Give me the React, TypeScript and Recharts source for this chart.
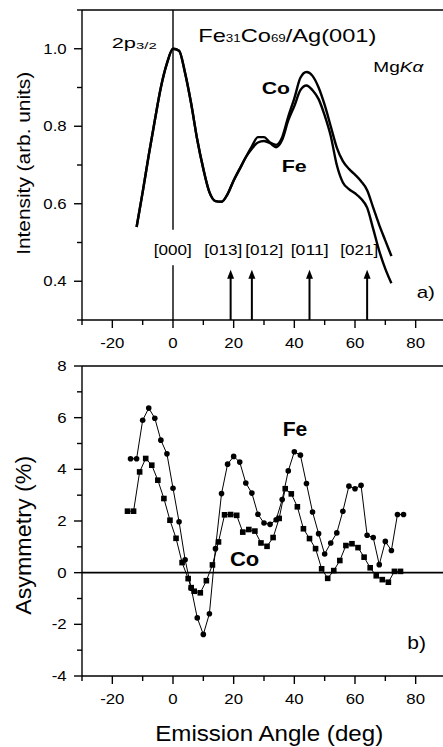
import React from "react";
import { LineChart, Line, XAxis, YAxis, ReferenceLine } from "recharts";

const FONT = "'Liberation Sans', Arial, sans-serif";
const INK = "#000";

// ── panel a) intensity curves ──
const INTENSITY_ANGLES = [
  -12, -10, -8, -6, -4, -2, 0, 2, 4, 6, 8, 10, 12, 14, 16, 18, 20, 22, 24, 26, 28, 30,
  32, 34, 36, 38, 40, 42, 44, 46, 48, 50, 52, 54, 56, 58, 60, 62, 64, 66, 68, 70, 72,
];
const CO_INTENSITY = [
  0.54, 0.63, 0.725, 0.815, 0.9, 0.962, 1.0, 0.995, 0.937, 0.858, 0.765, 0.69, 0.63, 0.607,
  0.605, 0.625, 0.66, 0.69, 0.72, 0.748, 0.772, 0.772, 0.758, 0.752, 0.772, 0.825, 0.872,
  0.925, 0.94, 0.93, 0.9, 0.855, 0.8, 0.745, 0.71, 0.69, 0.675, 0.658, 0.635, 0.59, 0.545,
  0.505, 0.465,
];
const FE_INTENSITY = [
  0.54, 0.63, 0.725, 0.815, 0.9, 0.962, 1.0, 0.995, 0.937, 0.858, 0.765, 0.69, 0.63, 0.607,
  0.605, 0.625, 0.66, 0.69, 0.72, 0.742, 0.758, 0.762, 0.756, 0.746, 0.765, 0.815, 0.852,
  0.893, 0.905, 0.893, 0.87, 0.828, 0.775, 0.7, 0.655, 0.638, 0.627, 0.613, 0.59, 0.535,
  0.478, 0.432, 0.395,
];

// diffraction directions marked in panel a)
const DIRECTION_LABELS = ["[000]", "[013]", "[012]", "[011]", "[021]"];
const ARROW_ANGLES = [19, 26, 45, 64];

// ── panel b) asymmetry ──
const FE_ASYM_ANGLES = [
  -14, -12, -10, -8, -6, -4, -2, 0, 2, 4, 6, 8, 10, 12, 14, 16, 18, 20, 22, 24, 26, 28, 30,
  32, 34, 36, 38, 40, 42, 44, 46, 48, 50, 52, 54, 56, 58, 60, 62, 64, 66, 68, 70, 72, 74, 76,
];
const FE_ASYM = [
  4.41, 4.41, 5.9, 6.37, 5.98, 5.13, 4.6, 3.27, 1.97, 0.5, -0.6, -1.75, -2.39, -1.59, 0.93,
  3.06, 4.2, 4.5, 4.28, 3.47, 3.08, 2.26, 1.92, 1.87, 2.05, 2.83, 3.94, 4.68, 4.55, 3.45,
  2.35, 1.51, 0.72, 1.15, 1.54, 2.38, 3.35, 3.25, 3.38, 1.45, 1.36, 0.31, 1.21, 0.86, 2.25,
  2.25,
];
const CO_ASYM_ANGLES = [
  -15, -13, -11, -9, -7, -5, -3, -1, 1, 3, 5, 6, 7, 9, 11, 13, 15, 17, 19, 21, 23, 25, 27,
  29, 31, 33, 35, 37, 39, 41, 43, 45, 47, 49, 51, 53, 55, 57, 59, 61, 63, 65, 67, 69, 71, 73,
  75,
];
const CO_ASYM = [
  2.38, 2.38, 3.9, 4.42, 4.16, 3.58, 2.87, 2.03, 1.33, 0.39, -0.23, -0.58, -0.72, -0.78,
  -0.31, 0.3, 1.19, 2.24, 2.25, 2.22, 1.57, 1.67, 1.61, 1.15, 1.02, 1.36, 2.1, 3.25, 3.05,
  2.55, 1.7, 1.32, 0.93, 0.15, -0.22, 0.08, 0.47, 1.05, 1.12, 0.97, 0.6, 0.19, -0.12, -0.27,
  -0.37, 0.05, 0.05,
];

// ── axes ──
const ANGLE_TICKS = [-30, -20, -10, 0, 10, 20, 30, 40, 50, 60, 70, 80, 90];
const ANGLE_LABELS = [-20, 0, 20, 40, 60, 80];
const INTENSITY_TICKS = [0.3, 0.4, 0.5, 0.6, 0.7, 0.8, 0.9, 1.0, 1.1];
const INTENSITY_LABELS = [0.4, 0.6, 0.8, 1.0];
const ASYM_TICKS = [-4, -3, -2, -1, 0, 1, 2, 3, 4, 5, 6, 7, 8];
const ASYM_LABELS = [-4, -2, 0, 2, 4, 6, 8];

const toPoints = (xs: number[], ys: number[]) => xs.map((a, i) => ({ angle: a, value: ys[i] }));

const near = (list: number[], v: number) => list.some((l) => Math.abs(l - v) < 1e-6);

// the figure's lettering is a wide sans, so tick text is stretched sideways a little
const tickText = (x: number, y: number, anchor: "middle" | "end", s: string) => (
  <text
    transform={`translate(${x},${y}) scale(1.2,1)`}
    dy="0.36em"
    textAnchor={anchor}
    fontSize={14}
    fontFamily={FONT}
    fill={INK}
  >
    {s}
  </text>
);

function makeTick(side: string, labels: number[], fmt: (v: number) => string) {
  return function Tick(props: any) {
    const { x, y, payload } = props;
    const v = payload.value;
    const major = near(labels, v);
    const len = major ? 8 : 5;
    const l =
      side === "bottom" || side === "top"
        ? { x1: x, y1: y, x2: x, y2: y + len }
        : { x1: x - len, y1: y, x2: x, y2: y };
    return (
      <g>
        <line {...l} stroke={INK} strokeWidth={1.4} />
        {major && side === "bottom" && tickText(x, y + 23, "middle", fmt(v))}
        {major && side === "left" && tickText(x - 15.3, y, "end", fmt(v))}
      </g>
    );
  };
}

const AXIS_LINE = { stroke: INK, strokeWidth: 1.4 };

function Arrow(p: any) {
  const { x1, y1, x2, y2 } = p;
  return (
    <g>
      <line x1={x1} y1={y1} x2={x2} y2={y2 + 7} stroke={INK} strokeWidth={2} />
      <polygon points={`${x2},${y2} ${x2 - 3.5},${y2 + 9} ${x2 + 3.5},${y2 + 9}`} fill={INK} />
    </g>
  );
}

function SquareDot(p: any) {
  return <rect key={p.index} x={p.cx - 2.8} y={p.cy - 2.8} width={5.6} height={5.6} fill={INK} />;
}

export default function App() {
  const coInt = toPoints(INTENSITY_ANGLES, CO_INTENSITY);
  const feInt = toPoints(INTENSITY_ANGLES, FE_INTENSITY);
  const feAsym = toPoints(FE_ASYM_ANGLES, FE_ASYM);
  const coAsym = toPoints(CO_ASYM_ANGLES, CO_ASYM);

  const xAxes = [
    <XAxis
      key="xb"
      dataKey="angle"
      type="number"
      domain={[-30, 90]}
      ticks={ANGLE_TICKS}
      interval={0}
      height={30}
      tickSize={0}
      tickMargin={0}
      axisLine={AXIS_LINE}
      tickLine={false}
      tick={makeTick("bottom", ANGLE_LABELS, (v) => String(v))}
    />,
    <XAxis
      key="xt"
      xAxisId="top"
      orientation="top"
      dataKey="angle"
      type="number"
      domain={[-30, 90]}
      ticks={ANGLE_TICKS}
      interval={0}
      height={10}
      tickSize={0}
      tickMargin={0}
      axisLine={AXIS_LINE}
      tickLine={false}
      tick={makeTick("top", ANGLE_LABELS, (v) => String(v))}
    />,
  ];

  const text = { fontFamily: FONT, fill: INK };
  const fit = { lengthAdjust: "spacingAndGlyphs" as const };
  const chartMargin = { top: 0, right: 0, bottom: 15, left: 0 };

  return (
    <div style={{ position: "absolute", left: 0, top: 0, width: 443, height: 747, overflow: "hidden", background: "#fff" }}>
      <div style={{ position: "absolute", left: 0, top: 0 }}>
        <LineChart width={460} height={365} margin={chartMargin}>
          {xAxes}
          <YAxis
            type="number"
            domain={[0.3, 1.1]}
            ticks={INTENSITY_TICKS}
            interval={0}
            width={82}
            tickSize={0}
            tickMargin={0}
            axisLine={AXIS_LINE}
            tickLine={false}
            allowDataOverflow
            tick={makeTick("left", INTENSITY_LABELS, (v) => v.toFixed(1))}
          />
          <YAxis
            yAxisId="right"
            orientation="right"
            type="number"
            domain={[0.3, 1.1]}
            ticks={INTENSITY_TICKS}
            interval={0}
            width={14}
            tickSize={0}
            tickMargin={0}
            axisLine={AXIS_LINE}
            tickLine={false}
            tick={makeTick("right", INTENSITY_LABELS, (v) => v.toFixed(1))}
          />
          <ReferenceLine segment={[{ x: 0, y: 1.1 }, { x: 0, y: 0.533 }]} stroke={INK} strokeWidth={1.4} ifOverflow="visible" />
          <ReferenceLine segment={[{ x: 0, y: 0.441 }, { x: 0, y: 0.3 }]} stroke={INK} strokeWidth={1.4} ifOverflow="visible" />
          {ARROW_ANGLES.map((a) => (
            <ReferenceLine key={a} segment={[{ x: a, y: 0.3 }, { x: a, y: 0.43 }]} ifOverflow="visible" shape={Arrow} />
          ))}
          <Line data={coInt} dataKey="value" type="monotone" stroke={INK} strokeWidth={2.4} dot={false} activeDot={false} isAnimationActive={false} />
          <Line data={feInt} dataKey="value" type="monotone" stroke={INK} strokeWidth={2.4} dot={false} activeDot={false} isAnimationActive={false} />
        </LineChart>
      </div>

      <div style={{ position: "absolute", left: 0, top: 356 }}>
        <LineChart width={460} height={365} margin={chartMargin}>
          {xAxes}
          <YAxis
            type="number"
            domain={[-4, 8]}
            ticks={ASYM_TICKS}
            interval={0}
            width={82}
            tickSize={0}
            tickMargin={0}
            axisLine={AXIS_LINE}
            tickLine={false}
            tick={makeTick("left", ASYM_LABELS, (v) => String(v))}
          />
          <YAxis
            yAxisId="right"
            orientation="right"
            type="number"
            domain={[-4, 8]}
            ticks={ASYM_TICKS}
            interval={0}
            width={14}
            tickSize={0}
            tickMargin={0}
            axisLine={AXIS_LINE}
            tickLine={false}
            tick={makeTick("right", ASYM_LABELS, (v) => String(v))}
          />
          <ReferenceLine y={0} stroke={INK} strokeWidth={1.6} />
          <Line data={feAsym} dataKey="value" type="linear" stroke={INK} strokeWidth={1} dot={{ r: 2.8, fill: INK, stroke: INK, strokeWidth: 0 }} activeDot={false} isAnimationActive={false} />
          <Line data={coAsym} dataKey="value" type="linear" stroke={INK} strokeWidth={1} dot={SquareDot} activeDot={false} isAnimationActive={false} />
        </LineChart>
      </div>

      <svg width={443} height={747} style={{ position: "absolute", left: 0, top: 0, pointerEvents: "none" }}>
        {/* panel a) annotations */}
        <text x={111.7} y={47.7} fontSize={14} textLength={45} {...fit} {...text}>
          2p<tspan fontSize={9.5} dy={1}>3/2</tspan>
        </text>
        <text x={198.3} y={41.7} fontSize={17.7} textLength={178} {...fit} {...text}>
          Fe<tspan fontSize={10}>31</tspan>Co<tspan fontSize={10}>69</tspan>/Ag(001)
        </text>
        <text x={373.3} y={72.3} fontSize={15} textLength={50} {...fit} {...text}>
          Mg<tspan fontStyle="italic">Kα</tspan>
        </text>
        <text x={261.7} y={94} fontSize={17} fontWeight="bold" textLength={28.3} {...fit} {...text}>Co</text>
        <text x={281.7} y={171.7} fontSize={17} fontWeight="bold" textLength={25} {...fit} {...text}>Fe</text>
        {DIRECTION_LABELS.map((d, i) => (
          <text key={d} x={[172.7, 223.3, 264.2, 309.7, 359.2][i]} y={254.5} fontSize={14} textAnchor="middle" textLength={38} {...fit} {...text}>
            {d}
          </text>
        ))}
        <text x={416.7} y={298} fontSize={17} textLength={18.3} {...fit} {...text}>a)</text>
        <text transform="translate(30.2,163.3) rotate(-90)" fontSize={18} textAnchor="middle" textLength={183} {...fit} {...text}>
          Intensity (arb. units)
        </text>

        {/* panel b) annotations */}
        <text x={282.7} y={436} fontSize={20} fontWeight="bold" textLength={24.6} {...fit} {...text}>Fe</text>
        <text x={230} y={566} fontSize={21} fontWeight="bold" textLength={29.3} {...fit} {...text}>Co</text>
        <text x={407.3} y={649} fontSize={18} textLength={18.7} {...fit} {...text}>b)</text>
        <text transform="translate(31,535.3) rotate(-90)" fontSize={22} textAnchor="middle" textLength={159} {...fit} {...text}>
          Asymmetry (%)
        </text>
        <text x={269.2} y={741} fontSize={22} textAnchor="middle" textLength={228} {...fit} {...text}>
          Emission Angle (deg)
        </text>
      </svg>
    </div>
  );
}
